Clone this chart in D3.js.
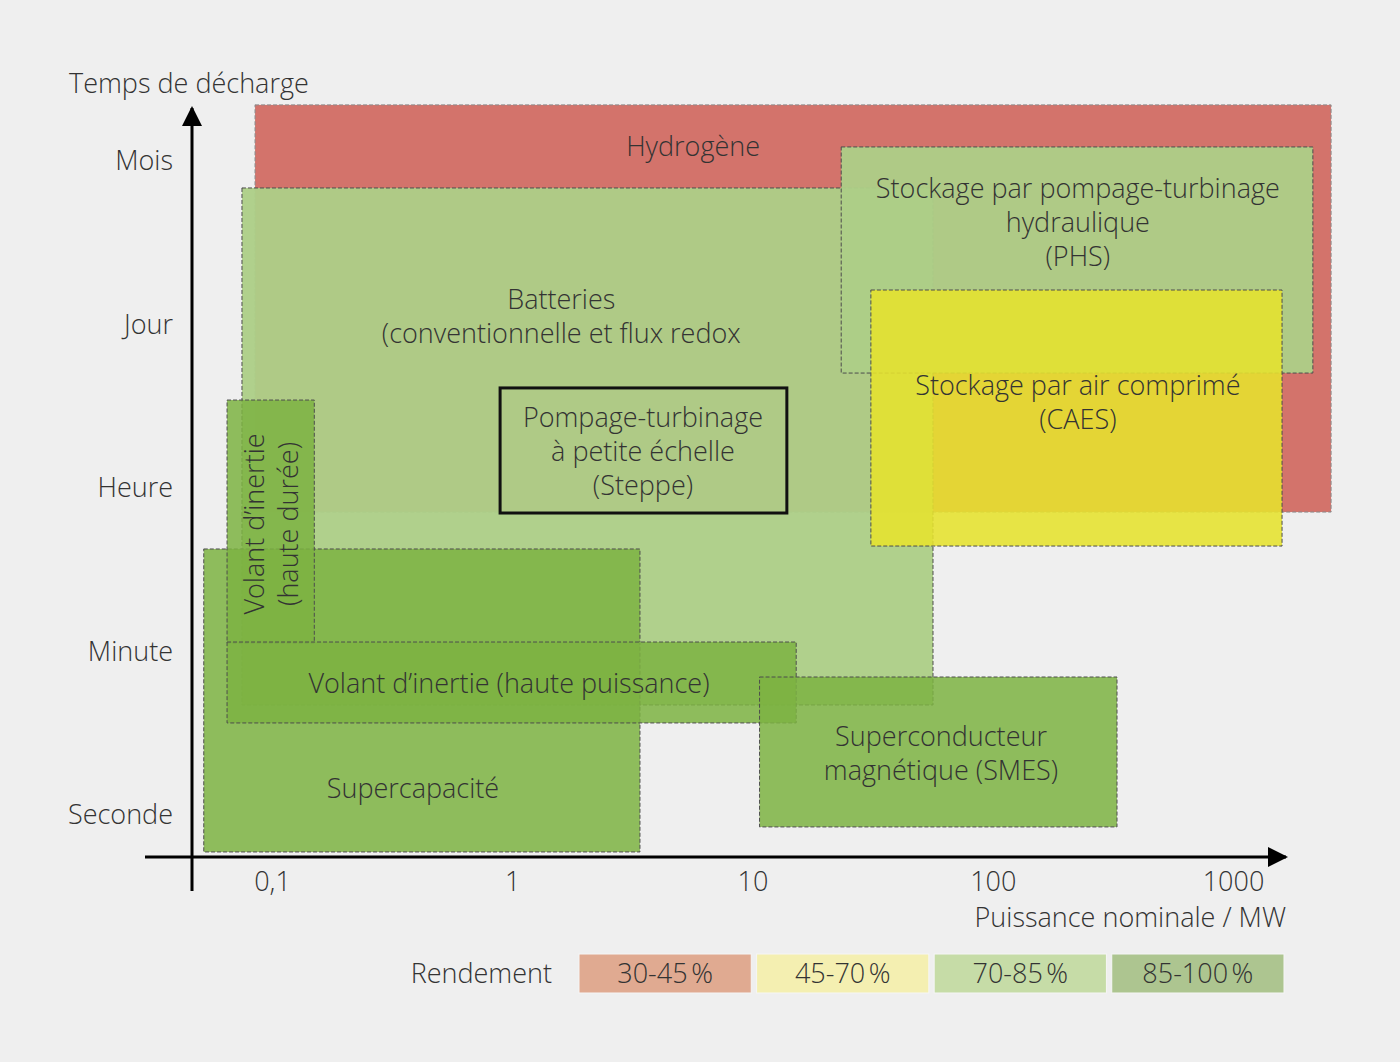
<!DOCTYPE html>
<html>
<head>
<meta charset="utf-8">
<script src="https://cdn.jsdelivr.net/npm/d3@7"></script>
<style>
  body { margin: 0; background: #efefef; }
  svg text { font-family: "Open Sans", sans-serif; font-weight: 300; fill: #333; }
</style>
</head>
<body>
<div id="chart"></div>
<script>
// technologies (drawn in this order, later ones on top)
const techNames = ["Hydrogène", "Batteries", "PHS", "CAES", "Steppe",
                   "Supercapacité", "Volant HD", "Volant HP", "SMES"];
const techLabels = [
  "Hydrogène",
  "Batteries\n(conventionnelle et flux redox",
  "Stockage par pompage-turbinage\nhydraulique\n(PHS)",
  "Stockage par air comprimé\n(CAES)",
  "Pompage-turbinage\nà petite échelle\n(Steppe)",
  "Supercapacité",
  "Volant d’inertie\n(haute durée)",
  "Volant d’inertie (haute puissance)",
  "Superconducteur\nmagnétique (SMES)"
];
// puissance nominale, MW
const powerMin = [0.085, 0.075, 23.4, 31.1, 0.89, 0.052, 0.065, 0.065, 10.7];
const powerMax = [2560, 56.4, 2150, 1600, 13.9, 3.40, 0.150, 15.2, 329];
// temps de décharge: 0 = seconde ... 4 = mois
const timeMin = [1.853, 0.673, 2.703, 1.645, 1.847, -0.226, 1.052, 0.563, -0.073];
const timeMax = [4.343, 3.835, 4.086, 3.211, 2.612, 1.627, 2.538, 1.058, 0.844];
// efficiency class of each technology (index into classes, -1 = outline only)
const techClass = [0, 2, 2, 1, -1, 3, 3, 3, 3];
// label anchors (data units)
const labelPower = [5.66, 1.60, 226, 226, 3.50, 0.386, 0.100, 0.969, 60.9];
const labelTime = [4.086, 3.046, 3.621, 2.52, 2.22, 0.159, 1.78, 0.807, 0.373];
const labelRotate = [0, 0, 0, 0, 0, 0, -90, 0, 0];

const xTicks = [0.1, 1, 10, 100, 1000];
const xTickLabels = ["0,1", "1", "10", "100", "1000"];
const yTickLabels = ["Seconde", "Minute", "Heure", "Jour", "Mois"];

const classNames = ["30-45\u202f%", "45-70\u202f%", "70-85\u202f%", "85-100\u202f%"];
const classFill = ["#d3736b", "#e6e22e", "#adce87", "#7cb342"];
const classAlpha = [1, 0.88, 0.96, 0.85];
const legendFill = ["#e0aa91", "#f4efb1", "#c6dca7", "#adc590"];

const width = 1400, height = 1062;
const fs = 27;

const svg = d3.select("#chart").append("svg")
    .attr("width", width)
    .attr("height", height);

svg.append("rect").attr("width", width).attr("height", height).attr("fill", "#efefef");

const x = d3.scaleLog().domain([0.1, 1000]).range([272, 1233]);
const y = d3.scaleLinear().domain([0, 4]).range([815, 161]);

// rectangles
const idx = d3.range(techNames.length);
svg.append("g").selectAll("rect")
    .data(idx)
    .join("rect")
    .attr("x", i => x(powerMin[i]))
    .attr("y", i => y(timeMax[i]))
    .attr("width", i => x(powerMax[i]) - x(powerMin[i]))
    .attr("height", i => y(timeMin[i]) - y(timeMax[i]))
    .attr("fill", i => techClass[i] < 0 ? "none" : classFill[techClass[i]])
    .attr("fill-opacity", i => techClass[i] < 0 ? 0 : classAlpha[techClass[i]])
    .attr("stroke", i => techClass[i] < 0 ? "#111" : (i == 0 ? "#8a8a8a" : "#4d4d4d"))
    .attr("stroke-width", i => techClass[i] < 0 ? 3 : 1)
    .attr("stroke-dasharray", i => techClass[i] < 0 ? null : "4,2");

// labels
const lineH = 34;
const lbl = svg.append("g").selectAll("text")
    .data(idx)
    .join("text")
    .attr("text-anchor", "middle")
    .attr("font-size", fs)
    .attr("transform", i => "translate(" + x(labelPower[i]) + "," + y(labelTime[i]) + ") rotate(" + labelRotate[i] + ")");

lbl.each(function(i) {
    let lines = techLabels[i].split("\n");
    let t = d3.select(this);
    lines.forEach((l, k) => {
        t.append("tspan")
            .attr("x", 0)
            .attr("y", (k - (lines.length - 1) / 2) * lineH)
            .attr("dy", "0.35em")
            .text(l);
    });
});

// axes
const defs = svg.append("defs");
defs.append("marker")
    .attr("id", "arrow")
    .attr("viewBox", "0 0 10 10")
    .attr("refX", 9).attr("refY", 5)
    .attr("markerWidth", 24).attr("markerHeight", 20)
    .attr("markerUnits", "userSpaceOnUse")
    .attr("orient", "auto")
    .append("path")
    .attr("d", "M0,0 L10,5 L0,10 Z")
    .attr("fill", "#000");

svg.append("line")
    .attr("x1", 145).attr("y1", 857).attr("x2", 1286).attr("y2", 857)
    .attr("stroke", "#000").attr("stroke-width", 3)
    .attr("marker-end", "url(#arrow)");
svg.append("line")
    .attr("x1", 192).attr("y1", 891).attr("x2", 192).attr("y2", 108)
    .attr("stroke", "#000").attr("stroke-width", 3)
    .attr("marker-end", "url(#arrow)");

const xAxis = d3.axisBottom(x)
    .tickValues(xTicks)
    .tickFormat((d, i) => xTickLabels[i])
    .tickSize(0)
    .tickPadding(0);
const gx = svg.append("g").attr("transform", "translate(0,882)").call(xAxis);
gx.select(".domain").remove();
gx.selectAll("text")
    .attr("dy", "0.35em")
    .attr("font-size", fs)
    .attr("fill", "#333")
    .style("font-family", "'Open Sans', sans-serif");

const yAxis = d3.axisLeft(y)
    .tickValues([0, 1, 2, 3, 4])
    .tickFormat(d => yTickLabels[d])
    .tickSize(0)
    .tickPadding(0);
const gy = svg.append("g").attr("transform", "translate(173,0)").call(yAxis);
gy.select(".domain").remove();
gy.selectAll("text")
    .attr("font-size", fs)
    .attr("fill", "#333")
    .style("font-family", "'Open Sans', sans-serif");

svg.append("text")
    .attr("x", 69).attr("y", 84).attr("dy", "0.35em")
    .attr("font-size", fs)
    .text("Temps de décharge");
svg.append("text")
    .attr("x", 1286).attr("y", 918).attr("dy", "0.35em")
    .attr("text-anchor", "end")
    .attr("font-size", fs)
    .text("Puissance nominale / MW");

// legend
const leg = d3.scaleBand().domain(classNames).range([579, 1284]).paddingInner(0.03);
svg.append("text")
    .attr("x", 552).attr("y", 974).attr("dy", "0.35em")
    .attr("text-anchor", "end")
    .attr("font-size", fs)
    .text("Rendement");
const lg = svg.append("g").selectAll("g")
    .data(classNames)
    .join("g");
lg.append("rect")
    .attr("x", d => leg(d))
    .attr("y", 954)
    .attr("width", leg.bandwidth())
    .attr("height", 39)
    .attr("fill", (d, i) => legendFill[i])
    .attr("stroke", "#f6f6f6")
    .attr("stroke-width", 1);
lg.append("text")
    .attr("x", d => leg(d) + leg.bandwidth() / 2)
    .attr("y", 974).attr("dy", "0.35em")
    .attr("text-anchor", "middle")
    .attr("font-size", fs)
    .text(d => d);
</script>
</body>
</html>
